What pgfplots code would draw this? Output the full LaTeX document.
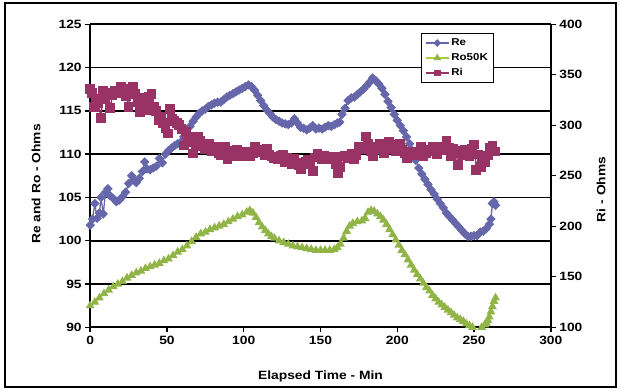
\documentclass[border=0pt]{standalone}
\usepackage{pgfplots}
\pgfplotsset{compat=1.18}
\usepackage{graphicx}
\usepackage{fontspec}
\setmainfont{Liberation Sans}
\newfontfamily\lab{Liberation Sans Bold}
\newcommand{\wx}[1]{\scalebox{1.15}[1]{#1}}
\definecolor{reblue}{RGB}{102,102,170}
\definecolor{rogreen}{RGB}{170,205,60}
\definecolor{romark}{RGB}{145,180,70}
\definecolor{rimar}{RGB}{153,51,102}
\pgfplotsset{
  myline/.style={legend image code/.code={\draw[mark repeat=2,mark phase=2,#1] plot coordinates {(0pt,0pt) (11.5pt,0pt) (23pt,0pt)};}},
  base/.style={
    scale only axis, width=460.6pt, height=303pt,
    xmin=0, xmax=300,
    tick align=outside, major tick length=5pt,
    tick style={black, line width=1.4pt},
    axis line style={black, line width=1.8pt, -},
    ticklabel style={font=\lab\fontsize{12}{14}\selectfont},
    label style={font=\lab\fontsize{12}{14}\selectfont},
    xticklabel={\wx{\pgfmathprintnumber{\tick}}},
    yticklabel={\wx{\pgfmathprintnumber{\tick}}},
    /pgf/number format/assume math mode=true,
  },
}
\begin{document}
\begin{tikzpicture}
\useasboundingbox (-90.2pt,-62.7pt) rectangle (529.8pt,327.3pt);
\draw[line width=1.8pt] (-85pt,-59.8pt) rectangle (526pt,324pt);
\begin{axis}[base,
  ymin=90, ymax=125,
  xtick={0,50,...,300}, ytick={90,95,...,125},
  axis x line*=bottom, axis y line*=left,
  ymajorgrids, major grid style={black, line width=1.6pt},
  xlabel={\wx{Elapsed Time - Min}},
  ylabel={\wx{Re and Ro - Ohms}},
  xlabel style={at={(axis description cs:0.5,-0.162)}, anchor=center},
  ylabel style={at={(axis description cs:-0.1177,0.473)}, anchor=center, rotate=0},
]
\addplot[color=reblue, line width=1.3pt, mark=square*, mark size=2.7pt, mark options={rotate=45, fill=reblue, draw=reblue}] coordinates {
(0,101.8) (1.5,102.5) (3,104.3) (4.5,102.6) (6,103.2) (7,105.0) (8.5,103.1) (10,105.6) (11.5,106.0) (13,105.2)
(15,104.9) (17,104.5) (19,104.7) (21,105.1) (23,105.6) (25,106.6) (27,107.5) (28.5,107.0) (30,106.7) (32,107.2)
(34,108.0) (35.5,109.1) (37,108.3) (39,108.2) (41,108.4) (43,108.6) (45,109.5) (47,109.0) (49,110.0) (51,110.4)
(53,110.7) (55,111.0) (57,111.2) (59,111.4) (61,112.0) (63,112.5) (65,113.2) (67,113.8) (69,114.3) (71,114.7)
(73,115.0) (75,115.2) (77,115.5) (79,115.7) (81,115.9) (83,116.0) (85,116.0) (87,116.3) (89,116.6) (91,116.8)
(93,117.0) (95,117.2) (97,117.4) (99,117.6) (101,117.8) (103,118.0) (105,117.8) (107,117.4) (109,116.8) (111,116.2)
(113,115.6) (115,115.1) (117,114.7) (119,114.3) (121,114.0) (123,113.8) (125,113.6) (127,113.5) (129,113.4) (131,113.6)
(133,114.1) (135,113.6) (137,113.1) (139,113.0) (141,112.8) (143,113.0) (145,113.3) (147,112.9) (149,113.0) (151,112.9)
(153,113.1) (155,113.3) (157,113.2) (159,113.4) (161,113.6) (162.5,113.7) (164,114.6) (166,115.3) (168,116.2) (170,116.5)
(172,116.6) (174,116.9) (176,117.2) (178,117.5) (180,117.9) (182,118.3) (184,118.8) (186,118.5) (188,118.1) (190,117.6)
(192,116.9) (194,116.1) (196,115.4) (198,114.6) (200,113.9) (202,113.3) (204,112.7) (206,112.0) (208,111.2) (210,110.4)
(212,109.3) (214,108.4) (216,107.7) (218,107.1) (220,106.5) (222,105.9) (224,105.4) (226,104.8) (228,104.3) (230,103.8)
(232,103.2) (234,102.8) (236,102.4) (238,102.0) (240,101.6) (242,101.2) (244,100.8) (246,100.5) (248,100.5) (250,100.6)
(252,100.6) (254,101.0) (256,101.1) (258,101.4) (260,101.9) (261,102.5) (262,104.3) (263,104.5) (264,104.1)
};
\addplot[color=rogreen, line width=1.3pt, mark=triangle*, mark size=3.8pt, mark options={fill=romark, draw=romark}] coordinates {
(0,92.5) (3,92.9) (6,93.4) (9,93.9) (12,94.3) (15,94.7) (18,95.0) (21,95.3) (24,95.7) (27,96.0)
(30,96.3) (33,96.5) (36,96.8) (39,97.0) (42,97.2) (45,97.4) (48,97.7) (51,97.9) (54,98.3) (57,98.7)
(60,99.0) (63,99.4) (66,99.9) (69,100.4) (72,100.8) (75,101.0) (78,101.3) (81,101.5) (84,101.7) (87,101.9)
(90,102.2) (93,102.5) (96,102.8) (99,103.0) (102,103.3) (104,103.5) (106,103.2) (108,102.7) (110,102.1) (112,101.6)
(114,101.2) (116,100.8) (118,100.5) (120,100.3) (123,100.0) (126,99.8) (129,99.6) (132,99.4) (135,99.3) (138,99.2)
(141,99.1) (144,99.0) (147,98.9) (150,98.9) (153,98.9) (156,98.9) (159,99.0) (161,99.2) (163,99.6) (165,100.3)
(167,101.1) (169,101.7) (171,102.0) (174,102.2) (177,102.3) (179,102.6) (181,103.3) (183,103.5) (185,103.4) (187,103.1)
(189,102.8) (191,102.4) (193,101.9) (195,101.3) (197,100.7) (199,100.1) (201,99.5) (203,98.9) (205,98.4) (207,97.8)
(209,97.2) (211,96.6) (213,96.1) (215,95.6) (217,95.1) (219,94.6) (221,94.2) (223,93.7) (225,93.3) (227,92.9)
(229,92.6) (231,92.3) (233,92.0) (235,91.7) (237,91.4) (239,91.1) (241,90.9) (243,90.7) (245,90.4) (247,90.2)
(249,90.0) (251,89.9) (253,89.8) (255,90.0) (257,90.3) (258,90.5) (259,90.8) (260,91.2) (261,91.8) (262,92.4)
(263,93.0) (264,93.4)
};
\end{axis}
\begin{axis}[base,
  ymin=100, ymax=400, ytick={100,150,...,400},
  axis y line*=right, axis x line=none,
  ylabel={\wx{Ri - Ohms}},
  ylabel style={at={(axis description cs:1.109,0.455)}, anchor=center, rotate=0},
  legend style={at={(0.718,0.971)}, anchor=north west, draw=black, line width=1.4pt, fill=white,
    font=\lab\fontsize{10}{12}\selectfont, inner xsep=3.5pt, inner ysep=3pt, row sep=2.5pt,
    cells={anchor=west}},
]
\addplot[forget plot, color=rimar, line width=1.3pt, mark=square*, mark size=4.2pt, mark options={fill=rimar, draw=rimar}] coordinates {
(0,336) (1,332) (2.5,318) (4,326) (5.5,322) (7,307) (8.5,334) (10,326) (11.5,332) (13,317)
(14.5,330) (16,334) (18,332) (20,338) (22,335) (23.5,329) (25,318) (26.5,336) (28,338) (29.5,331)
(31,323) (32.5,313) (34,327) (35.5,322) (37,315) (38.5,328) (40,331) (41.5,318) (43,314) (44.5,305)
(46,308) (47.5,302) (49,297) (50.5,292) (52,316) (53.5,306) (55,304) (56.5,302) (58,300) (59.5,296)
(61,280) (62.5,294) (64,289) (65.5,283) (67,272) (68.5,279) (70,289) (71.5,285) (73,282) (74.5,276)
(76,280) (77.5,282) (79,274) (80.5,277) (82,279) (83.5,272) (85,270) (86.5,275) (88,279) (89.5,266)
(91,275) (92.5,272) (94,269) (95.5,276) (97,274) (98.5,270) (100,269) (101.5,274) (103,270) (104.5,269)
(106,272) (107.5,279) (109,276) (110.5,273) (112,274) (113.5,270) (115,277) (116.5,271) (118,269) (119.5,267)
(121,268) (122.5,266) (124,270) (125.5,271) (127,264) (128.5,268) (130,265) (131.5,262) (133,267) (134.5,263)
(136,261) (137.5,257) (139,263) (140.5,264) (142,266) (143.5,262) (145,255) (146.5,268) (148,272) (149.5,268)
(151,266) (152.5,270) (154,269) (155.5,266) (157,267) (158.5,269) (160,262) (161.5,253) (163,259) (164.5,269)
(166,270) (167.5,267) (169,268) (170.5,272) (172,266) (173.5,270) (175,279) (176.5,276) (178,277) (179.5,289)
(181,282) (182.5,274) (184,269) (185.5,276) (187,279) (188.5,282) (190,281) (191.5,272) (193,276) (194.5,284)
(196,281) (197.5,279) (199,274) (200.5,277) (202,282) (203.5,276) (205,272) (206.5,267) (208,270) (209.5,274)
(211,272) (212.5,270) (214,274) (215.5,279) (217,269) (218.5,272) (220,276) (221.5,276) (223,279) (224.5,274)
(226,271) (227.5,279) (229,276) (230.5,275) (232,285) (233.5,278) (235,269) (236.5,277) (238,275) (239.5,261)
(241,272) (242.5,270) (244,276) (245.5,274) (247,269) (248.5,277) (250,281) (251.5,256) (253,271) (254.5,259)
(256,265) (257.5,264) (259,270) (260.5,278) (262,280) (263.5,274)
};
\addlegendimage{myline={color=reblue, line width=1.3pt, mark=square*, mark size=2.1pt, mark options={rotate=45, fill=reblue, draw=reblue}}}
\addlegendimage{myline={color=rogreen, line width=1.3pt, mark=triangle*, mark size=3pt, mark options={fill=romark, draw=romark}}}
\addlegendimage{myline={color=rimar, line width=1.3pt, mark=square*, mark size=2.6pt, mark options={fill=rimar, draw=rimar}}}
\legend{\wx{Re},\wx{Ro50K},\wx{Ri}}
\end{axis}
\end{tikzpicture}
\end{document}
